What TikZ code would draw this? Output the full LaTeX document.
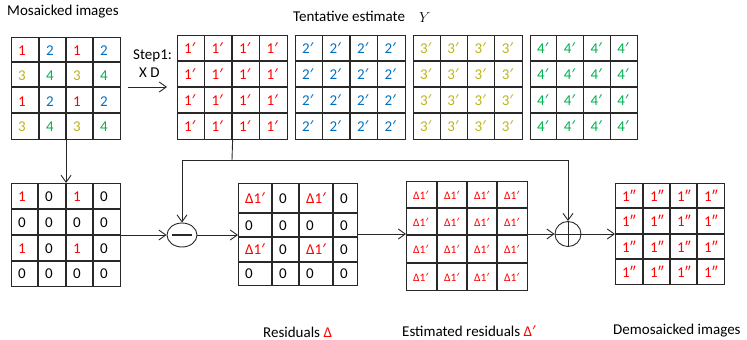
\documentclass[tikz,border=0pt]{standalone}
\usepackage{fontspec}
\setmainfont{Carlito}
\newfontfamily\primefont{Noto Sans}
\newcommand\pr{{\primefont ′}}
\usetikzlibrary{arrows.meta,shapes.geometric,calc}
\definecolor{cred}{RGB}{255,0,0}
\definecolor{cblue}{RGB}{0,112,192}
\definecolor{colive}{RGB}{188,180,30}
\definecolor{cgreen}{RGB}{0,176,80}
\definecolor{cline}{RGB}{40,40,40}
\begin{document}
\begin{tikzpicture}[x=1pt,y=-1pt,
  gridbox/.style={draw=cline,line width=1.2pt,rectangle,inner sep=0pt,anchor=north west},
  gridline/.style={draw=cline,line width=1.2pt},
  cell/.style={anchor=base west,inner sep=0pt,font=\fontsize{15}{17}\selectfont},
  smallcell/.style={anchor=base west,inner sep=0pt,font=\fontsize{11.5}{13}\selectfont},
  lab/.style={anchor=base west,inner sep=0pt,font=\fontsize{15}{17}\selectfont},
  conn/.style={draw=cline,line width=0.9pt,-{Straight Barb[length=7pt,width=10pt,line width=0.9pt]}},
  plain/.style={draw=cline,line width=0.9pt},
  op/.style={draw=cline,line width=0.9pt,ellipse,inner sep=0pt}]
\useasboundingbox (0,0) rectangle (747,340);

% ---------- labels ----------
\node[lab] (lmos) at (7,16) {Mosaicked images};
\node[lab] (ltent) at (293,21.5) {Tentative estimate};
\node[lab] (ly) at (419,22) {$Y$};
\node[lab] (lstep) at (133,59) {Step1:};
\node[lab] (lxd) at (139,77) {X D};
\node[lab] (lres) at (263,337) {Residuals \textcolor{cred}{Δ}};
\node[lab] (lest) at (402,336.5) {Estimated residuals \textcolor{cred}{Δ\pr}};
\node[lab] (ldemo) at (613,334) {Demosaicked images};

% ---------- mosaicked grid ----------
\node[gridbox,minimum width=109pt,minimum height=102pt] (mos) at (11,37) {};
\foreach \x in {39,66,93} \draw[gridline] (\x,37) -- (\x,139);
\foreach \y in {62,87,113} \draw[gridline] (11,\y) -- (120,\y);
\foreach \y in {55,106}
  \foreach \x/\t/\c in {11/1/cred,39/2/cblue,66/1/cred,93/2/cblue}
    \node[cell,text=\c] at ({\x+7},\y) {\t};
\foreach \y in {80,131}
  \foreach \x/\t/\c in {11/3/colive,39/4/cgreen,66/3/colive,93/4/cgreen}
    \node[cell,text=\c] at ({\x+7},\y) {\t};

% ---------- tentative estimate grids ----------
\node[gridbox,minimum width=110pt,minimum height=104pt] (t1) at (177,35) {};
\node[gridbox,minimum width=110pt,minimum height=104pt] (t2) at (295,35) {};
\node[gridbox,minimum width=109pt,minimum height=104pt] (t3) at (413,35) {};
\node[gridbox,minimum width=107pt,minimum height=104pt] (t4) at (530,35) {};
\foreach \xa/\xb/\t/\c in {177/287/1/cred,295/405/2/cblue,413/522/3/colive,530/637/4/cgreen}{
  \pgfmathsetmacro\w{(\xb-\xa)/4}
  \foreach \i in {1,2,3} \draw[gridline] ({\xa+\i*\w},35) -- ({\xa+\i*\w},139);
  \foreach \y in {61,87,113} \draw[gridline] (\xa,\y) -- (\xb,\y);
  \foreach \i in {0,1,2,3}
    \foreach \y in {53,79,105,131}
      \node[cell,text=\c] at ({\xa+\i*\w+7},\y) {\t\pr};
}

% ---------- zero-filled grid ----------
\node[gridbox,minimum width=109pt,minimum height=103pt] (zero) at (11,183) {};
\foreach \x in {38,66,93} \draw[gridline] (\x,183) -- (\x,286);
\foreach \y in {209,235,261} \draw[gridline] (11,\y) -- (120,\y);
\foreach \y in {201,253}
  \foreach \x/\t/\c in {11/1/cred,38/0/black,66/1/cred,93/0/black}
    \node[cell,text=\c] at ({\x+7},\y) {\t};
\foreach \y in {227,278}
  \foreach \x in {11,38,66,93}
    \node[cell] at ({\x+7},\y) {0};

% ---------- residual grid ----------
\node[gridbox,minimum width=119pt,minimum height=102pt] (res) at (238,183) {};
\foreach \x in {272,299,333} \draw[gridline] (\x,183) -- (\x,285);
\foreach \y in {213,237,262} \draw[gridline] (238,\y) -- (357,\y);
\foreach \y in {203,254}
  \foreach \x/\t/\c in {238/Δ1\pr/cred,272/0/black,299/Δ1\pr/cred,333/0/black}
    \node[cell,text=\c] at ({\x+7},\y) {\t};
\foreach \y in {230,278}
  \foreach \x in {238,272,299,333}
    \node[cell] at ({\x+7},\y) {0};

% ---------- estimated residual grid ----------
\node[gridbox,minimum width=121pt,minimum height=109pt] (est) at (406,181) {};
\foreach \x in {437,467,497} \draw[gridline] (\x,181) -- (\x,290);
\foreach \y in {208,235,263} \draw[gridline] (406,\y) -- (527,\y);
\foreach \x in {406,437,467,497}
  \foreach \y in {199,226,253,281}
    \node[smallcell,text=cred] at ({\x+7},\y) {Δ1\pr};

% ---------- demosaicked grid ----------
\node[gridbox,minimum width=109pt,minimum height=101pt] (demo) at (615,183) {};
\foreach \x in {643,670,697} \draw[gridline] (\x,183) -- (\x,284);
\foreach \y in {208,234,259} \draw[gridline] (615,\y) -- (724,\y);
\foreach \x in {615,643,670,697}
  \foreach \y in {201,226,252,277}
    \node[cell,text=cred] at ({\x+7},\y) {1″};

% ---------- operators ----------
\node[op,minimum width=30pt,minimum height=24pt] (minus) at (182,235) {};
\draw[line width=2pt,cline] ([xshift=-10pt]minus.center) -- ([xshift=10pt]minus.center);
\node[op,minimum width=26pt,minimum height=25pt] (plus) at (568,234) {};
\draw[plain] (plus.north) -- (plus.south);
\draw[plain] (plus.west) -- (plus.east);

% ---------- connectors ----------
\coordinate (sa) at (128,87);
\coordinate (sb) at (167,87);
\draw[conn] (sa) -- (sb);
\draw[conn] (mos.south) -- (zero.north);
\draw[conn] (zero.east |- minus.west) -- (minus.west);
\draw[conn] (minus.east) -- (minus.east -| res.west);
\draw[conn] (res.east |- 0,234) -- (est.west |- 0,234);
\draw[conn] (est.east |- plus.west) -- (plus.west);
\draw[conn] (plus.east) -- (plus.east -| demo.west);
\coordinate (j) at (232,160);
\draw[plain] (t1.south) -- (j);
\draw[conn] (j) -| (minus.north);
\draw[conn] (j) -| (plus.north);
\end{tikzpicture}
\end{document}
